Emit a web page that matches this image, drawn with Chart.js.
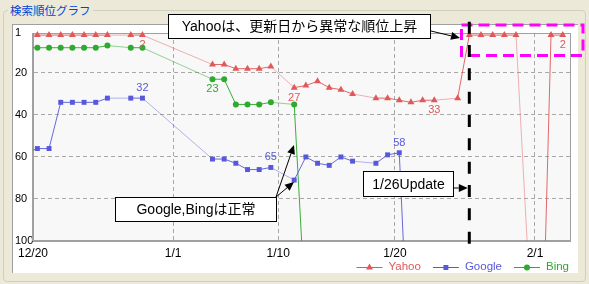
<!DOCTYPE html>
<html>
<head>
<meta charset="utf-8">
<script src="https://cdn.jsdelivr.net/npm/chart.js@4.4.1/dist/chart.umd.min.js"></script>
<style>
    body { margin: 0; width: 589px; height: 284px; background: #ECE9D8; position: relative; overflow: hidden; }
    #group { position: absolute; left: 3px; top: 10px; width: 581px; height: 270px; border: 1px solid #D0D0BF; border-radius: 4px; }
    #title { position: absolute; left: 8px; top: 2px; padding: 0 2px; background: #ECE9D8; color: #0046D5;
             font: 11.5px "Noto Sans CJK JP", sans-serif; line-height: 16px; }
    #panel { position: absolute; left: 12px; top: 24px; width: 565px; height: 248px; background: #fff;
             border-left: 1px solid #A0A0A0; border-top: 1px solid #A0A0A0; }
    #rankChart { position: absolute; left: 0; top: 0; }
</style>
</head>
<body>
<div id="group"></div>
<div id="title">検索順位グラフ</div>
<div id="panel"></div>
<canvas id="rankChart" width="589" height="284"></canvas>
<script>
// =================================================================
// DATA
// =================================================================
const dates = ['12/19', '12/20', '12/21', '12/22', '12/23', '12/24', '12/25', '12/26', '12/28', '12/29',
    '1/4', '1/5', '1/6', '1/7', '1/8', '1/9', '1/11', '1/12', '1/13', '1/14', '1/15', '1/16',
    '1/18', '1/19', '1/20', '1/21', '1/22', '1/23', '1/25', '1/26', '1/27', '1/28', '1/29', '1/30',
    '2/1', '2/2', '2/3'];

const yahooRanks = [2, 2, 2, 2, 2, 2, 2, 2, 2, 2,
    16, 16, 18, 18, 18, 17, 27, 26, 24, 27, 28, 30,
    32, 32, 33, 34, 33, 33, 32, 2, 2, 2, 2, 2,
    208, 2, 2];
const googleRanks = [58, 56, 56, 34, 34, 34, 34, 32, 32, 32,
    61, 61, 63, 66, 66, 65, 71, 60, 63, 64, 60, 62,
    63, 59, 58, 180, null, null, null, null, null, null, null, null,
    null, null, null];
const bingRanks = [8, 8, 8, 8, 8, 8, 8, 7, 8, 8,
    23, 23, 35, 35, 35, 34, 35, 137, null, null, null, null,
    null, null, null, null, null, null, null, null, null, null, null, null,
    null, null, null];

// points that carry a value label
const yahooLabelDates = ['12/29', '1/11', '1/23', '2/3'];
const googleLabelDates = ['12/29', '1/9', '1/20'];
const bingLabelDates = ['1/4'];

const tickDates = ['12/20', '1/1', '1/10', '1/20', '2/1'];
const rankTicks = [1, 20, 40, 60, 80, 100];
const axisStart = '12/20';
const axisEnd = '2/4';
const updateDate = '1/26';
const sampleHour = 9; // rankings were taken in the morning

// =================================================================
// HELPERS
// =================================================================
const FONT = '"Liberation Sans", "Noto Sans CJK JP", sans-serif';

function dayOf(md) {
    const [m, d] = md.split('/').map(Number);
    const y = m === 12 ? 2010 : 2011;
    return (Date.UTC(y, m - 1, d) - Date.UTC(2010, 11, 20)) / 86400000;
}
const xOf = md => dayOf(md) + sampleHour / 24;

function series(label, values, color, lineColor, gapColor, style, radius, labelDates, labelSide) {
    return {
        label: label,
        data: dates.map((d, i) => ({ x: xOf(d), y: values[i] })),
        borderColor: lineColor,
        backgroundColor: color,
        borderWidth: 1,
        pointStyle: style,
        pointRadius: radius,
        pointHoverRadius: radius,
        pointBorderWidth: 0,
        pointBackgroundColor: color,
        clip: { left: 0, top: 6, right: 6, bottom: 0 },
        segment: { borderColor: c => (c.p1.parsed.x - c.p0.parsed.x > 1.5 ? gapColor : lineColor) },
        labelDates: labelDates,
        labelSide: labelSide
    };
}

function arrow(ctx, x1, y1, x2, y2) {
    const a = Math.atan2(y2 - y1, x2 - x1), L = 9, W = 4;
    const bx = x2 - Math.cos(a) * L, by = y2 - Math.sin(a) * L;
    ctx.beginPath();
    ctx.moveTo(x1, y1);
    ctx.lineTo(bx, by);
    ctx.stroke();
    ctx.beginPath();
    ctx.moveTo(x2, y2);
    ctx.lineTo(bx + W * Math.sin(a), by - W * Math.cos(a));
    ctx.lineTo(bx - W * Math.sin(a), by + W * Math.cos(a));
    ctx.closePath();
    ctx.fill();
}

function noteBox(ctx, x, y, w, h, text) {
    ctx.fillStyle = '#fff';
    ctx.fillRect(x, y, w, h);
    ctx.strokeStyle = '#000';
    ctx.lineWidth = 1;
    ctx.strokeRect(x + 0.5, y + 0.5, w - 1, h - 1);
    ctx.fillStyle = '#000';
    ctx.font = '14px ' + FONT;
    ctx.textAlign = 'center';
    ctx.textBaseline = 'middle';
    ctx.fillText(text, x + w / 2, y + h / 2 + 1);
}

// =================================================================
// PLUGINS
// =================================================================
const plotFrame = {
    id: 'plotFrame',
    beforeDraw(chart) {
        const { ctx, chartArea: a } = chart;
        ctx.save();
        ctx.fillStyle = '#F8F8F8';
        ctx.fillRect(a.left, a.top, a.right - a.left, a.bottom - a.top);
        ctx.restore();
    },
    beforeDatasetsDraw(chart) {
        const { ctx, chartArea: a } = chart;
        ctx.save();
        ctx.strokeStyle = '#A0A0A0';
        ctx.lineWidth = 1;
        ctx.strokeRect(Math.round(a.left) - 0.5, Math.round(a.top) + 0.5,
            Math.round(a.right - a.left) + 1, Math.round(a.bottom - a.top) - 1);
        ctx.restore();
    }
};

const valueLabels = {
    id: 'valueLabels',
    afterDatasetsDraw(chart) {
        const ctx = chart.ctx;
        ctx.save();
        ctx.font = '11px ' + FONT;
        ctx.textAlign = 'center';
        ctx.textBaseline = 'middle';
        chart.data.datasets.forEach((ds, i) => {
            const meta = chart.getDatasetMeta(i);
            ctx.fillStyle = ds.backgroundColor;
            dates.forEach((d, j) => {
                if (!ds.labelDates.includes(d)) return;
                const p = meta.data[j];
                ctx.fillText(String(ds.data[j].y), p.x, p.y + ds.labelSide * 10);
            });
        });
        ctx.restore();
    }
};

const lineLegend = {
    id: 'lineLegend',
    afterDraw(chart) {
        const ctx = chart.ctx;
        const y = 267;
        ctx.save();
        ctx.font = '11.5px ' + FONT;
        ctx.textBaseline = 'middle';
        ctx.textAlign = 'left';
        let x = 569;
        const items = chart.data.datasets.slice().reverse();
        items.forEach(ds => {
            const tw = ctx.measureText(ds.label).width;
            const tx = x - tw;
            ctx.fillStyle = ds.backgroundColor;
            ctx.fillText(ds.label, tx, y);
            const lx2 = tx - 6, lx1 = lx2 - 26;
            ctx.strokeStyle = ds.backgroundColor;
            ctx.lineWidth = 1;
            ctx.beginPath();
            ctx.moveTo(lx1, y + 0.5);
            ctx.lineTo(lx2, y + 0.5);
            ctx.stroke();
            Chart.helpers.drawPoint(ctx, { pointStyle: ds.pointStyle, radius: ds.pointRadius, rotation: 0, borderWidth: 0 },
                (lx1 + lx2) / 2, y + 0.5);
            x = lx1 - 12;
        });
        ctx.restore();
    }
};

const notes = {
    id: 'notes',
    afterDraw(chart) {
        const ctx = chart.ctx;
        const xs = chart.scales.x;
        ctx.save();

        // Yahoo highlight frame
        ctx.strokeStyle = '#FF00FF';
        ctx.lineWidth = 3;
        ctx.setLineDash([11, 6]);
        ctx.strokeRect(461.5, 25, 121.5, 30.5);

        // update day marker
        const ux = xs.getPixelForValue(xOf(updateDate));
        ctx.strokeStyle = '#000';
        ctx.lineWidth = 3;
        ctx.setLineDash([12, 11.33]);
        ctx.beginPath();
        ctx.moveTo(ux, 21.7);
        ctx.lineTo(ux, 244);
        ctx.stroke();
        ctx.setLineDash([]);

        noteBox(ctx, 168, 14, 263, 25, 'Yahooは、更新日から異常な順位上昇');
        noteBox(ctx, 363, 171, 91, 26, '1/26Update');
        noteBox(ctx, 115, 197, 162, 25, 'Google,Bingは正常');

        ctx.strokeStyle = '#000';
        ctx.fillStyle = '#000';
        ctx.lineWidth = 1;
        arrow(ctx, 431, 31, 460, 38);
        arrow(ctx, 454, 188, ux - 1.5, 188);
        arrow(ctx, 276, 197, 294, 145);
        arrow(ctx, 276, 197, 294, 182);
        ctx.restore();
    }
};

// =================================================================
// CHART
// =================================================================
Chart.defaults.font.family = FONT;
Chart.defaults.color = '#000';

const gridOpts = { color: '#A8A8A8', drawTicks: false, lineWidth: 1 };
const borderOpts = { color: '#A0A0A0', dash: [4, 3] };

new Chart(document.getElementById('rankChart').getContext('2d'), {
    type: 'line',
    data: {
        datasets: [
            series('Yahoo', yahooRanks, '#E05858', 'rgba(224,88,88,0.9)', 'rgba(224,88,88,0.45)', 'triangle', 4, yahooLabelDates, 1),
            series('Google', googleRanks, '#5858DC', 'rgba(88,88,220,0.9)', 'rgba(88,88,220,0.45)', 'rect', 3.5, googleLabelDates, -1),
            series('Bing', bingRanks, '#2EAA2E', 'rgba(46,170,46,0.95)', 'rgba(46,170,46,0.5)', 'circle', 3, bingLabelDates, 1)
        ]
    },
    options: {
        responsive: false,
        animation: false,
        devicePixelRatio: 1,
        layout: { padding: { left: 15, top: 33, right: 19, bottom: 23 } },
        plugins: { legend: { display: false }, tooltip: { enabled: false } },
        scales: {
            x: {
                type: 'linear',
                min: dayOf(axisStart),
                max: dayOf(axisEnd),
                afterBuildTicks: s => { s.ticks = tickDates.map(d => ({ value: dayOf(d) })); },
                afterFit: s => { s.height = 20; },
                ticks: { callback: (v, i) => tickDates[i], font: { size: 12 }, color: '#000', padding: 5, maxRotation: 0, autoSkip: false },
                grid: gridOpts,
                border: borderOpts
            },
            y: {
                type: 'linear',
                reverse: true,
                min: 1,
                max: 100,
                afterBuildTicks: s => { s.ticks = rankTicks.map(v => ({ value: v })); },
                afterFit: s => { s.width = 18; },
                ticks: { crossAlign: 'far', font: { size: 11 }, color: '#000', autoSkip: false },
                grid: gridOpts,
                border: borderOpts
            }
        }
    },
    plugins: [plotFrame, valueLabels, lineLegend, notes]
});
</script>
</body>
</html>
